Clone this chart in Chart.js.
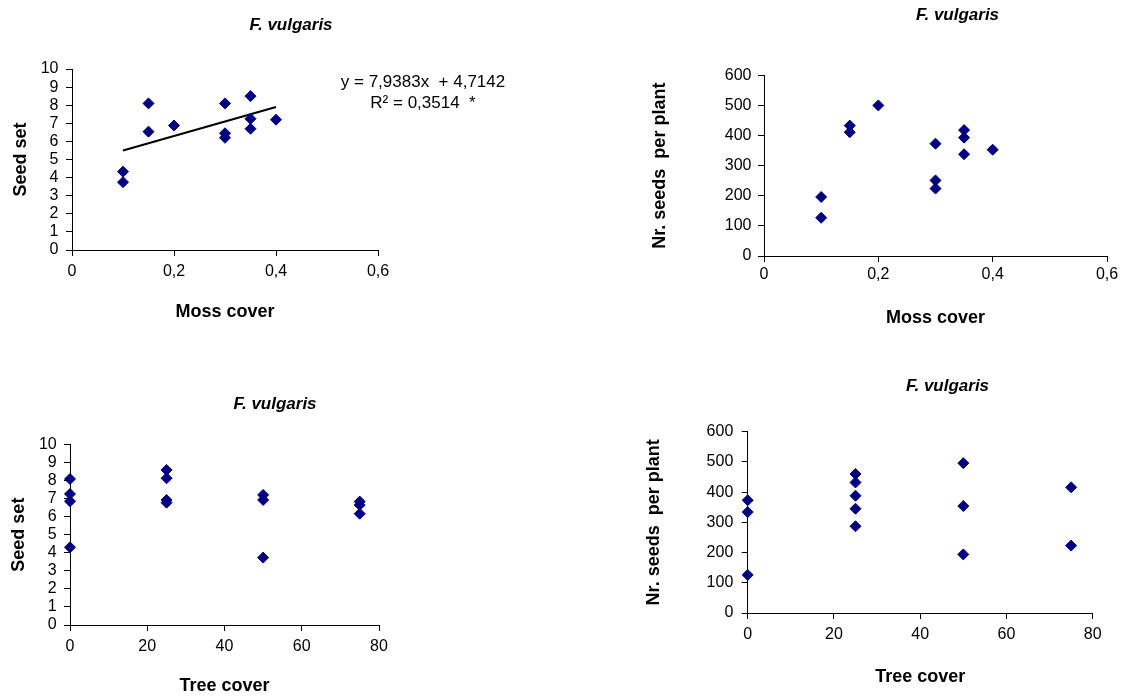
<!DOCTYPE html>
<html>
<head>
<meta charset="utf-8">
<script src="https://cdn.jsdelivr.net/npm/chart.js@4.4.1/dist/chart.umd.min.js"></script>
<style>
  html, body { margin: 0; padding: 0; background: #fff; overflow: hidden; width: 1126px; height: 697px; }
  canvas { position: absolute; }
</style>
</head>
<body>
<canvas id="c1" width="582" height="340" style="left:0;top:0"></canvas>
<canvas id="c2" width="635" height="345" style="left:640px;top:0"></canvas>
<canvas id="c3" width="550" height="320" style="left:0;top:380px"></canvas>
<canvas id="c4" width="635" height="337" style="left:630px;top:360px"></canvas>
<script>
// --- datos ---
const speciesTitle = 'F. vulgaris';

// moss cover vs seed set
const mossCoverA = [0.1, 0.1, 0.15, 0.15, 0.2, 0.3, 0.3, 0.3, 0.35, 0.35, 0.35, 0.4];
const seedSetA   = [4.33, 3.75, 8.1, 6.54, 6.88, 8.1, 6.45, 6.2, 8.5, 7.25, 6.7, 7.2];
const trendX = [0.1, 0.4];
const trendY = [5.5, 7.9];
const trendLabel = ['y = 7,9383x  + 4,7142', 'R\u00b2 = 0,3514  *'];

// moss cover vs seeds per plant
const mossCoverB = [0.1, 0.1, 0.15, 0.15, 0.2, 0.3, 0.3, 0.3, 0.35, 0.35, 0.35, 0.4];
const seedsB     = [196, 127, 433, 411, 500, 373, 251, 224, 418, 393, 338, 353];

// tree cover vs seed set
const treeCoverC = [0, 0, 0, 0, 25, 25, 25, 25, 50, 50, 50, 75, 75, 75];
const seedSetC   = [8.08, 7.25, 6.85, 4.3, 8.58, 8.12, 6.92, 6.77, 7.2, 6.92, 3.73, 6.83, 6.64, 6.16];

// tree cover vs seeds per plant
const treeCoverD = [0, 0, 0, 25, 25, 25, 25, 25, 50, 50, 50, 75, 75];
const seedsD     = [373, 334, 126, 460, 432, 388, 345, 287, 496, 354, 194, 416, 223];

// ticks
const mossTicks = [0, 0.2, 0.4, 0.6];
const treeTicks = [0, 20, 40, 60, 80];
const seedSetTicks = [0, 1, 2, 3, 4, 5, 6, 7, 8, 9, 10];
const seedsTicks = [0, 100, 200, 300, 400, 500, 600];

Chart.defaults.font.family = "'Liberation Sans', Arial, sans-serif";
Chart.defaults.color = '#000';

const toPoints = (xs, ys) => xs.map((x, i) => ({ x: x, y: ys[i] }));
const fmt = v => String(v).replace('.', ',');

function makePanel(id, p) {
    const datasets = [{
        data: toPoints(p.xs, p.ys),
        yAxisID: 'y',
        pointStyle: 'rectRot',
        pointRadius: 5.5,
        pointBackgroundColor: '#000080',
        pointBorderColor: '#000080',
        pointBorderWidth: 1,
        showLine: false,
        clip: false,
        order: 0
    }];
    if (p.trend) {
        datasets.push({
            data: toPoints(p.trend[0], p.trend[1]),
            yAxisID: 'y',
            showLine: true,
            borderColor: '#000',
            borderWidth: 2,
            pointRadius: 0,
            order: 1
        });
    }

    const tickFont = { size: 16 };
    const axisTitleFont = { size: 18, weight: 'bold' };

    return new Chart(document.getElementById(id), {
        type: 'scatter',
        data: { datasets: datasets },
        options: {
            responsive: false,
            animation: false,
            layout: { padding: 0 },
            plugins: {
                legend: { display: false },
                tooltip: { enabled: false },
                title: {
                    display: true,
                    text: speciesTitle,
                    font: { size: 17, weight: 'bold', style: 'italic' },
                    padding: { top: p.titleTop - 0.6, bottom: p.titleBottom - 0.6 }
                }
            },
            scales: {
                x: {
                    type: 'linear', position: 'bottom',
                    min: p.xTicks[0], max: p.xTicks[p.xTicks.length - 1],
                    afterBuildTicks: s => { s.ticks = p.xTicks.map(v => ({ value: v })); },
                    afterFit: s => { s.height = p.xH; },
                    grid: { drawOnChartArea: false, drawTicks: true, tickLength: 6, color: '#000' },
                    border: { display: true, color: '#000', width: 1 },
                    ticks: { font: tickFont, padding: p.xPad - 0.6, autoSkip: false, maxRotation: 0, callback: fmt },
                    title: { display: true, text: p.xTitle, font: axisTitleFont, padding: { top: 0, bottom: p.xTitlePad } }
                },
                y: {
                    type: 'linear', position: 'left',
                    min: p.yTicks[0], max: p.yTicks[p.yTicks.length - 1],
                    afterBuildTicks: s => { s.ticks = p.yTicks.map(v => ({ value: v })); },
                    afterFit: s => { s.width = p.yW; },
                    grid: { drawOnChartArea: false, drawTicks: true, tickLength: 6, color: '#000' },
                    border: { display: true, color: '#000', width: 1 },
                    ticks: { font: tickFont, padding: p.yPad, autoSkip: false, callback: fmt },
                    title: { display: true, text: p.yTitle, font: axisTitleFont, padding: { top: p.yTitlePad, bottom: 0 } }
                },
                // espacio vacio a la derecha para que el titulo quede centrado como en el original
                r: {
                    type: 'linear', position: 'right', display: true,
                    afterFit: s => { s.width = p.rW; },
                    grid: { display: false },
                    border: { display: false },
                    ticks: { display: false }
                }
            }
        },
        plugins: p.trend ? [{
            id: 'eqLabel',
            afterDraw(chart) {
                const ctx = chart.ctx;
                const xs = chart.scales.x;
                const cx = xs.getPixelForValue(p.xTicks[p.xTicks.length - 1]) + 45;
                const top = chart.chartArea.top;
                ctx.save();
                ctx.font = "17px 'Liberation Sans', Arial, sans-serif";
                ctx.fillStyle = '#000';
                ctx.textAlign = 'center';
                ctx.textBaseline = 'middle';
                ctx.fillText(trendLabel[0], cx, top + 13);
                ctx.fillText(trendLabel[1], cx, top + 34);
                ctx.restore();
            }
        }] : []
    });
}

makePanel('c1', {
    xs: mossCoverA, ys: seedSetA, trend: [trendX, trendY],
    xTicks: mossTicks, yTicks: seedSetTicks,
    xTitle: 'Moss cover', yTitle: 'Seed set',
    titleTop: 16, titleBottom: 33.8,
    yW: 72, rW: 204, xH: 90,
    xPad: 6.5, yPad: 7.5, xTitlePad: 17, yTitlePad: 10
});

makePanel('c2', {
    xs: mossCoverB, ys: seedsB,
    xTicks: mossTicks, yTicks: seedsTicks,
    xTitle: 'Moss cover', yTitle: 'Nr. seeds  per plant',
    titleTop: 6, titleBottom: 50.1,
    yW: 124, rW: 168, xH: 89,
    xPad: 4, yPad: 6.5, xTitlePad: 16.2, yTitlePad: 9.2
});

makePanel('c3', {
    xs: treeCoverC, ys: seedSetC,
    xTicks: treeTicks, yTicks: seedSetTicks,
    xTitle: 'Tree cover', yTitle: 'Seed set',
    titleTop: 14.4, titleBottom: 30.7,
    yW: 70, rW: 171, xH: 75,
    xPad: 6.5, yPad: 7.3, xTitlePad: 2.7, yTitlePad: 8.7
});

makePanel('c4', {
    xs: treeCoverD, ys: seedsD,
    xTicks: treeTicks, yTicks: seedsTicks,
    xTitle: 'Tree cover', yTitle: 'Nr. seeds  per plant',
    titleTop: 17.1, titleBottom: 35.4,
    yW: 117.7, rW: 172.3, xH: 84,
    xPad: 7, yPad: 8.4, xTitlePad: 9.5, yTitlePad: 13.2
});
</script>
</body>
</html>
